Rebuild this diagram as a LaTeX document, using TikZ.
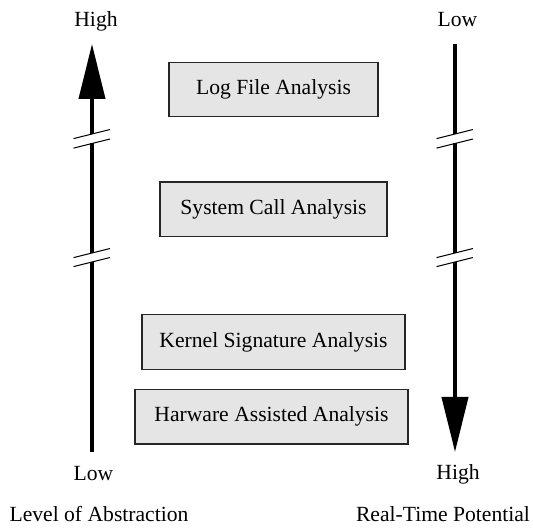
\documentclass[tikz,border=0pt]{standalone}
\usepackage{fontspec}
\setmainfont{Liberation Serif}
\usepackage{tikz}
\usetikzlibrary{arrows.meta,positioning}
\newcommand\figfont{\fontsize{12.3pt}{14pt}\selectfont}

\begin{document}
\begin{tikzpicture}[
  node distance=1.28cm,
  method/.style={rectangle, draw=black!85, fill=gray!20, line width=0.7pt,
                 minimum height=1.09cm, inner xsep=0pt, font=\figfont},
  axislabel/.style={anchor=base, inner sep=0pt, font=\figfont},
  axis/.style={line width=2.3pt},
  breakmark/.style={line width=0.6pt},
  >={Triangle[length=1.1cm, width=0.52cm]}
]
\useasboundingbox (0,0) rectangle (10.66,10.54);

% Analysis methods
\node[method, minimum width=4.18cm] (log) at (5.47,8.75) {Log File Analysis};
\node[method, minimum width=4.54cm, below=1.28cm of log] (syscall) {System Call Analysis};
\node[method, minimum width=5.26cm, below=1.54cm of syscall] (kernel) {Kernel Signature Analysis};
\node[method, minimum width=5.46cm, below=0.38cm of kernel, xshift=-0.04cm] (hw) {Harware Assisted Analysis};

% Axis end points and break points
\foreach \ax/\xx in {abs/1.84, rtp/9.1} {
  \coordinate (\ax-top) at (\xx,9.66);
  \coordinate (\ax-brkA) at (\xx,7.86);
  \coordinate (\ax-brkB) at (\xx,7.67);
  \coordinate (\ax-brkC) at (\xx,5.48);
  \coordinate (\ax-brkD) at (\xx,5.30);
  \coordinate (\ax-bot) at (\xx,1.5);
}

% Level of abstraction (upwards)
\draw[axis] (abs-bot) -- (abs-brkD);
\draw[axis] (abs-brkC) -- (abs-brkB);
\draw[axis, ->] (abs-brkA) -- (abs-top);

% Real-time potential (downwards)
\draw[axis] (rtp-top) -- (rtp-brkA);
\draw[axis] (rtp-brkB) -- (rtp-brkC);
\draw[axis, ->] (rtp-brkD) -- (rtp-bot);

% Break marks
\foreach \ax in {abs, rtp}
  \foreach \b in {brkA, brkB, brkC, brkD}
    \draw[breakmark] ([shift={(194:0.38)}]\ax-\b) -- ([shift={(14:0.37)}]\ax-\b);

% Axis ends
\node[axislabel] (absHigh) at (1.92,10.0) {High};
\node[axislabel] (rtpLow) at (9.15,10.0) {Low};
\node[axislabel] (absLow) at (1.87,0.94) {Low};
\node[axislabel] (rtpHigh) at (9.16,0.95) {High};

% Axis names
\node[axislabel] (absName) at (1.98,0.12) {Level of Abstraction};
\node[axislabel] (rtpName) at (8.86,0.12) {Real-Time Potential};

\end{tikzpicture}
\end{document}
